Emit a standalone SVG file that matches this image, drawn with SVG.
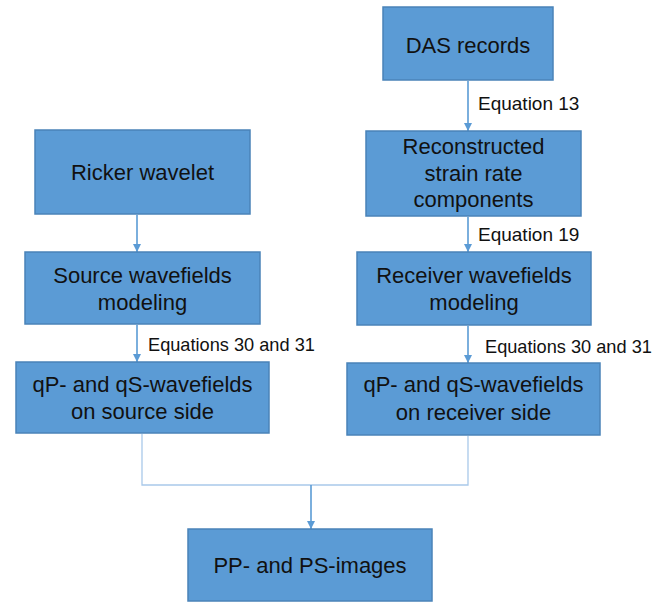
<svg xmlns="http://www.w3.org/2000/svg" width="668" height="602" viewBox="0 0 668 602">
  <style>
    .box { fill: #5b9bd5; stroke: #4a83b8; stroke-width: 1.5; }
    .node-text { font-family: "Liberation Sans", Arial, sans-serif; font-size: 22px; fill: #111; text-anchor: middle; }
    .label { font-family: "Liberation Sans", Arial, sans-serif; font-size: 19px; fill: #111; }
    .label-eqs { font-size: 18.2px; }
    .flow { stroke: #5b9bd5; stroke-width: 1.6; fill: none; }
    .merge { stroke: #a9c9ea; stroke-width: 1.3; fill: none; }
  </style>
  <defs>
    <marker id="arrow" viewBox="0 0 10 10" refX="10" refY="5" markerWidth="8" markerHeight="8" markerUnits="userSpaceOnUse" orient="auto">
      <path d="M0,0 L10,5 L0,10 z" fill="#5b9bd5"/>
    </marker>
  </defs>

  <rect width="668" height="602" fill="#ffffff"/>

  <g id="connectors">
    <line class="flow" x1="468" y1="81" x2="468" y2="131" marker-end="url(#arrow)"/>
    <line class="flow" x1="137" y1="215" x2="137" y2="252" marker-end="url(#arrow)"/>
    <line class="flow" x1="468" y1="217" x2="468" y2="252" marker-end="url(#arrow)"/>
    <line class="flow" x1="137" y1="325" x2="137" y2="362" marker-end="url(#arrow)"/>
    <line class="flow" x1="468" y1="326" x2="468" y2="363" marker-end="url(#arrow)"/>
    <polyline class="merge" points="142,434 142,485 468,485 468,436"/>
    <line class="flow" x1="311" y1="485" x2="311" y2="529" marker-end="url(#arrow)"/>
    <text class="label" x="478" y="110">Equation 13</text>
    <text class="label" x="478" y="241">Equation 19</text>
    <text class="label label-eqs" x="148" y="351">Equations 30 and 31</text>
    <text class="label label-eqs" x="485" y="353">Equations 30 and 31</text>
  </g>

  <g id="das-records">
    <rect class="box" x="383" y="7" width="170" height="73"/>
    <text class="node-text" x="468" y="53">DAS records</text>
  </g>

  <g id="ricker-wavelet">
    <rect class="box" x="35" y="130" width="215" height="84"/>
    <text class="node-text" x="142.5" y="180">Ricker wavelet</text>
  </g>

  <g id="strain-rate">
    <rect class="box" x="366" y="131" width="215" height="85"/>
    <text class="node-text" x="473.5" y="154">Reconstructed</text>
    <text class="node-text" x="473.5" y="181">strain rate</text>
    <text class="node-text" x="473.5" y="207">components</text>
  </g>

  <g id="source-modeling">
    <rect class="box" x="25" y="252" width="235" height="72"/>
    <text class="node-text" x="142.5" y="283">Source wavefields</text>
    <text class="node-text" x="142.5" y="310">modeling</text>
  </g>

  <g id="receiver-modeling">
    <rect class="box" x="357" y="252" width="234" height="73"/>
    <text class="node-text" x="474" y="283">Receiver wavefields</text>
    <text class="node-text" x="474" y="310">modeling</text>
  </g>

  <g id="source-side">
    <rect class="box" x="16" y="362" width="253" height="71"/>
    <text class="node-text" x="142.5" y="392">qP- and qS-wavefields</text>
    <text class="node-text" x="142.5" y="419">on source side</text>
  </g>

  <g id="receiver-side">
    <rect class="box" x="347" y="363" width="253" height="72"/>
    <text class="node-text" x="473.5" y="392">qP- and qS-wavefields</text>
    <text class="node-text" x="473.5" y="420">on receiver side</text>
  </g>

  <g id="images">
    <rect class="box" x="188" y="529" width="244" height="72"/>
    <text class="node-text" x="310" y="573">PP- and PS-images</text>
  </g>
</svg>
